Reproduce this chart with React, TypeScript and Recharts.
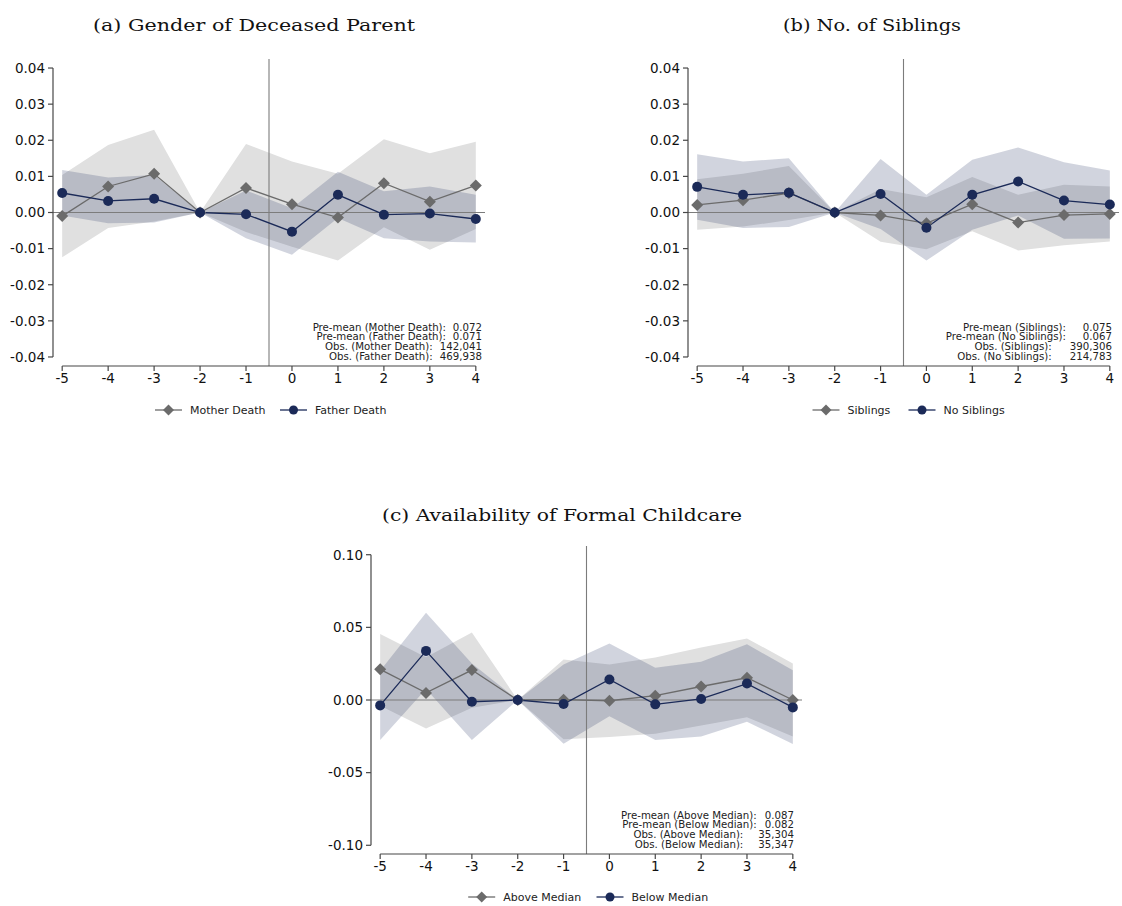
import React from "react";
import { Area, ComposedChart, Line, ReferenceLine, XAxis, YAxis } from "recharts";

// event time relative to parental death
const EVENT_TIME = [-5, -4, -3, -2, -1, 0, 1, 2, 3, 4];

// (a) gender of deceased parent
const MOTHER_EST = [-0.001, 0.0072, 0.0107, 0, 0.0068, 0.0023, -0.0014, 0.0081, 0.003, 0.0075];
const MOTHER_LO = [-0.0124, -0.0043, -0.0025, 0, -0.0054, -0.0095, -0.0133, -0.0041, -0.0103, -0.0046];
const MOTHER_HI = [0.0104, 0.0187, 0.0229, 0, 0.019, 0.0141, 0.0107, 0.0203, 0.0164, 0.0196];
const FATHER_EST = [0.0054, 0.0032, 0.0038, 0, -0.0005, -0.0053, 0.0049, -0.0006, -0.0003, -0.0018];
const FATHER_LO = [-0.0008, -0.003, -0.0028, 0, -0.0071, -0.0117, -0.0015, -0.0071, -0.008, -0.0083];
const FATHER_HI = [0.0118, 0.0097, 0.0104, 0, 0.0061, 0.0012, 0.0113, 0.0059, 0.0072, 0.0049];

// (b) number of siblings
const SIB_EST = [0.0021, 0.0034, 0.0054, 0, -0.0008, -0.003, 0.0023, -0.0028, -0.0007, -0.0004];
const SIB_LO = [-0.0048, -0.0039, -0.0021, 0, -0.0081, -0.0102, -0.0052, -0.0105, -0.0091, -0.008];
const SIB_HI = [0.0092, 0.0107, 0.0129, 0, 0.0065, 0.0042, 0.0098, 0.0049, 0.0077, 0.0072];
const NOSIB_EST = [0.0071, 0.0049, 0.0055, 0, 0.0051, -0.0042, 0.0049, 0.0086, 0.0033, 0.0022];
const NOSIB_LO = [-0.002, -0.0043, -0.004, 0, -0.0046, -0.0133, -0.0048, -0.0008, -0.0073, -0.0072];
const NOSIB_HI = [0.0161, 0.0141, 0.015, 0, 0.0148, 0.0049, 0.0146, 0.018, 0.0139, 0.0116];

// (c) availability of formal childcare
const ABOVE_EST = [0.0211, 0.0049, 0.0206, 0, 0.0002, -0.0005, 0.003, 0.0093, 0.0153, 0.0];
const ABOVE_LO = [-0.004, -0.0197, -0.0053, 0, -0.027, -0.0255, -0.0232, -0.0175, -0.0118, -0.0252];
const ABOVE_HI = [0.0454, 0.0295, 0.0465, 0, 0.0278, 0.0245, 0.0292, 0.0361, 0.0424, 0.0252];
const BELOW_EST = [-0.0037, 0.0338, -0.0012, 0, -0.0028, 0.0141, -0.003, 0.0007, 0.0113, -0.0051];
const BELOW_LO = [-0.0275, 0.0076, -0.0275, 0, -0.0301, -0.0111, -0.0276, -0.0252, -0.015, -0.0302];
const BELOW_HI = [0.0201, 0.06, 0.0251, 0, 0.0245, 0.0389, 0.0222, 0.0264, 0.0384, 0.0204];

const TICKS_SMALL = [-0.04, -0.03, -0.02, -0.01, 0, 0.01, 0.02, 0.03, 0.04];
const TICKS_LARGE = [-0.1, -0.05, 0, 0.05, 0.1];

const NOTES_A = [
  ["Pre-mean (Mother Death):", "0.072"],
  ["Pre-mean (Father Death):", "0.071"],
  ["Obs. (Mother Death):", "142,041"],
  ["Obs. (Father Death):", "469,938"],
];
const NOTES_B = [
  ["Pre-mean (Siblings):", "0.075"],
  ["Pre-mean (No Siblings):", "0.067"],
  ["Obs. (Siblings):", "390,306"],
  ["Obs. (No Siblings):", "214,783"],
];
const NOTES_C = [
  ["Pre-mean (Above Median):", "0.087"],
  ["Pre-mean (Below Median):", "0.082"],
  ["Obs. (Above Median):", "35,304"],
  ["Obs. (Below Median):", "35,347"],
];

const GRAY = "#6b6b6b";
const NAVY = "#1b2a58";
const BAND_GRAY = "#e0e0e0";
const AXIS = "#474747";
const GUIDE = "#7c7c7c";
const SANS = "'DejaVu Sans', Verdana, sans-serif";
const SERIF = "'DejaVu Serif', serif";

const X_DOMAIN: [number, number] = [-5.2, 4.2];
const Y_AXIS_W = 52;
const X_AXIS_H = 30;
const PAD = 10;

type Series = { name: string; est: number[]; lo: number[]; hi: number[] };
type Box = { left: number; right: number; top: number; bottom: number };

const mother: Series = { name: "Mother Death", est: MOTHER_EST, lo: MOTHER_LO, hi: MOTHER_HI };
const father: Series = { name: "Father Death", est: FATHER_EST, lo: FATHER_LO, hi: FATHER_HI };
const siblings: Series = { name: "Siblings", est: SIB_EST, lo: SIB_LO, hi: SIB_HI };
const noSiblings: Series = { name: "No Siblings", est: NOSIB_EST, lo: NOSIB_LO, hi: NOSIB_HI };
const above: Series = { name: "Above Median", est: ABOVE_EST, lo: ABOVE_LO, hi: ABOVE_HI };
const below: Series = { name: "Below Median", est: BELOW_EST, lo: BELOW_LO, hi: BELOW_HI };

function buildRows(a: Series, b: Series) {
  return EVENT_TIME.map((t, i) => ({
    t,
    aEst: a.est[i],
    aBand: [a.lo[i], a.hi[i]],
    bEst: b.est[i],
    bBand: [b.lo[i], b.hi[i]],
  }));
}

function diamondPath(cx: number, cy: number, r: number) {
  return `M${cx},${cy - r}L${cx + r},${cy}L${cx},${cy + r}L${cx - r},${cy}Z`;
}

function DiamondDot(props: any) {
  const { cx, cy, index } = props;
  if (cx == null || cy == null) return <g key={`dm-${index}`} />;
  return <path key={`dm-${index}`} d={diamondPath(cx, cy, 6)} fill={GRAY} />;
}

function CircleDot(props: any) {
  const { cx, cy, index } = props;
  if (cx == null || cy == null) return <g key={`cd-${index}`} />;
  return <circle key={`cd-${index}`} cx={cx} cy={cy} r={5} fill={NAVY} />;
}

function EventStudyPanel({ plot, yLimit, yTicks, a, b }: { plot: Box; yLimit: number; yTicks: number[]; a: Series; b: Series }) {
  const rows = buildRows(a, b);
  const width = plot.right - plot.left + Y_AXIS_W + 2 * PAD;
  const height = plot.bottom - plot.top + X_AXIS_H + 2 * PAD;
  const tickFont = { fontFamily: SANS, fontSize: 13.5, fill: "#111" };

  return (
    <div style={{ position: "absolute", left: plot.left - Y_AXIS_W - PAD, top: plot.top - PAD }}>
      <ComposedChart width={width} height={height} data={rows} margin={{ top: PAD, right: PAD, bottom: PAD, left: PAD }}>
        <XAxis
          type="number"
          dataKey="t"
          domain={X_DOMAIN}
          ticks={EVENT_TIME}
          interval={0}
          allowDataOverflow
          axisLine={false}
          tickLine={{ stroke: AXIS, strokeWidth: 1.2 }}
          tickSize={5}
          tickMargin={2}
          tick={tickFont}
          height={X_AXIS_H}
        />
        <YAxis
          type="number"
          domain={[-yLimit, yLimit]}
          ticks={yTicks}
          interval={0}
          allowDataOverflow
          axisLine={false}
          tickLine={{ stroke: AXIS, strokeWidth: 1.2 }}
          tickSize={5}
          tickMargin={3}
          tick={tickFont}
          tickFormatter={(v: number) => v.toFixed(2)}
          width={Y_AXIS_W}
        />
        <Area type="linear" dataKey="aBand" fill={BAND_GRAY} fillOpacity={1} stroke="none" isAnimationActive={false} />
        <Area type="linear" dataKey="bBand" fill={NAVY} fillOpacity={0.2} stroke="none" isAnimationActive={false} />
        <ReferenceLine y={0} stroke={GUIDE} strokeWidth={1.1} />
        <ReferenceLine x={-0.5} stroke={GUIDE} strokeWidth={1.1} />
        {/* axis lines only span the labelled range */}
        <ReferenceLine
          segment={[{ x: EVENT_TIME[0], y: -yLimit }, { x: EVENT_TIME[EVENT_TIME.length - 1], y: -yLimit }]}
          stroke={AXIS}
          strokeWidth={1.2}
          ifOverflow="visible"
        />
        <ReferenceLine
          segment={[{ x: X_DOMAIN[0], y: yTicks[0] }, { x: X_DOMAIN[0], y: yTicks[yTicks.length - 1] }]}
          stroke={AXIS}
          strokeWidth={1.2}
          ifOverflow="visible"
        />
        <Line type="linear" dataKey="aEst" stroke={GRAY} strokeWidth={1.3} dot={DiamondDot} activeDot={false} isAnimationActive={false} />
        <Line type="linear" dataKey="bEst" stroke={NAVY} strokeWidth={1.3} dot={CircleDot} activeDot={false} isAnimationActive={false} />
      </ComposedChart>
    </div>
  );
}

function NoteBlock({ rows, bottom, preRight, obsRight, valRight }: { rows: string[][]; bottom: number; preRight: number; obsRight: number; valRight: number }) {
  return (
    <g fontFamily={SANS} fontSize={10.2} fill="#222">
      {rows.map(([label, value], i) => {
        const y = bottom - 35.3 + i * 9.7;
        const right = label.startsWith("Obs.") ? obsRight : preRight;
        return (
          <g key={label}>
            <text x={right} y={y} textAnchor="end">{label}</text>
            <text x={valRight} y={y} textAnchor="end">{value}</text>
          </g>
        );
      })}
    </g>
  );
}

function LegendKey({ y, grayX, navyX, a, b }: { y: number; grayX: number; navyX: number; a: Series; b: Series }) {
  return (
    <g fontFamily={SANS} fontSize={11} fill="#222">
      <line x1={grayX - 13.5} x2={grayX + 13.5} y1={y} y2={y} stroke={GRAY} strokeWidth={1.3} />
      <path d={diamondPath(grayX, y, 5.5)} fill={GRAY} />
      <text x={grayX + 21.5} y={y + 4}>{a.name}</text>
      <line x1={navyX - 13.5} x2={navyX + 13.5} y1={y} y2={y} stroke={NAVY} strokeWidth={1.3} />
      <circle cx={navyX} cy={y} r={4.5} fill={NAVY} />
      <text x={navyX + 21.5} y={y + 4}>{b.name}</text>
    </g>
  );
}

const PLOT_A: Box = { left: 53, right: 485, top: 59, bottom: 366 };
const PLOT_B: Box = { left: 688, right: 1119, top: 59, bottom: 366 };
const PLOT_C: Box = { left: 371, right: 802, top: 546, bottom: 854 };

export default function App() {
  return (
    <div style={{ position: "absolute", left: 0, top: 0, width: 1122, height: 906, background: "#fff" }}>
      <EventStudyPanel plot={PLOT_A} yLimit={0.0425} yTicks={TICKS_SMALL} a={mother} b={father} />
      <EventStudyPanel plot={PLOT_B} yLimit={0.0425} yTicks={TICKS_SMALL} a={siblings} b={noSiblings} />
      <EventStudyPanel plot={PLOT_C} yLimit={0.106} yTicks={TICKS_LARGE} a={above} b={below} />
      <svg width={1122} height={906} style={{ position: "absolute", left: 0, top: 0, pointerEvents: "none" }}>
        <g fontFamily={SERIF} fontSize={17.5} fill="#111" textAnchor="middle">
          <text x={254} y={31} textLength={322} lengthAdjust="spacingAndGlyphs">(a) Gender of Deceased Parent</text>
          <text x={872} y={31} textLength={178} lengthAdjust="spacingAndGlyphs">(b) No. of Siblings</text>
          <text x={562} y={521} textLength={360} lengthAdjust="spacingAndGlyphs">(c) Availability of Formal Childcare</text>
        </g>
        <NoteBlock rows={NOTES_A} bottom={PLOT_A.bottom} preRight={446} obsRight={432.7} valRight={482} />
        <NoteBlock rows={NOTES_B} bottom={PLOT_B.bottom} preRight={1066} obsRight={1051.7} valRight={1112} />
        <NoteBlock rows={NOTES_C} bottom={PLOT_C.bottom} preRight={756.7} obsRight={743.3} valRight={794} />
        <LegendKey y={410} grayX={168.5} navyX={293.5} a={mother} b={father} />
        <LegendKey y={410} grayX={826} navyX={922} a={siblings} b={noSiblings} />
        <LegendKey y={897} grayX={481.7} navyX={610} a={above} b={below} />
      </svg>
    </div>
  );
}
